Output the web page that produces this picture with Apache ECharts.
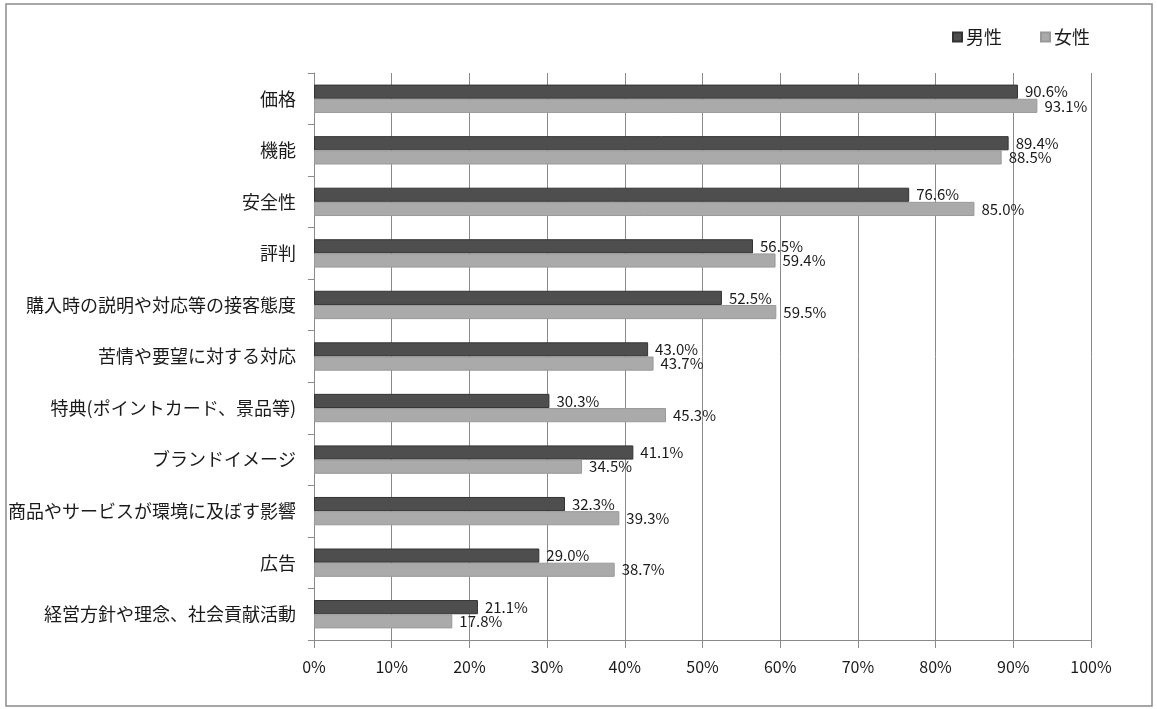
<!DOCTYPE html>
<html>
<head>
<meta charset="utf-8">
<script src="https://cdn.jsdelivr.net/npm/echarts@6/dist/echarts.min.js"></script>
<style>
html,body{margin:0;padding:0;background:#fff;}
#chart{width:1157px;height:709px;}
</style>
</head>
<body>
<div id="chart"></div>
<script>
// Categories, top to bottom
const categories = [
  '価格', '機能', '安全性', '評判', '購入時の説明や対応等の接客態度',
  '苦情や要望に対する対応', '特典(ポイントカード、景品等)', 'ブランドイメージ',
  '商品やサービスが環境に及ぼす影響', '広告', '経営方針や理念、社会貢献活動'
];
const seriesNames = ['男性', '女性'];
const maleValues = [90.6, 89.4, 76.6, 56.5, 52.5, 43.0, 30.3, 41.1, 32.3, 29.0, 21.1];
const femaleValues = [93.1, 88.5, 85.0, 59.4, 59.5, 43.7, 45.3, 34.5, 39.3, 38.7, 17.8];
const xTicks = [0, 10, 20, 30, 40, 50, 60, 70, 80, 90, 100];

const FONT = '"Noto Sans CJK JP", "Noto Sans", sans-serif';
const chart = echarts.init(document.getElementById('chart'), null, {renderer: 'canvas'});

const valueLabel = {
  show: true,
  position: 'right',
  distance: 7,
  color: '#1a1a1a',
  fontSize: 15,
  fontFamily: FONT,
  formatter: p => p.value.toFixed(1) + '%'
};

chart.setOption({
  backgroundColor: '#fff',
  animation: false,
  graphic: [{
    type: 'rect',
    shape: {x: 6, y: 4, width: 1146, height: 702},
    style: {fill: 'none', stroke: '#8a8a8a', lineWidth: 1.5},
    silent: true
  }],
  legend: {
    data: seriesNames,
    right: 62,
    top: 23,
    itemWidth: 9,
    itemHeight: 9,
    itemGap: 38,
    icon: 'rect',
    textStyle: {fontFamily: FONT, fontSize: 18, color: '#1a1a1a', padding: [0, 0, 0, -1]}
  },
  grid: {left: 314, right: 66, top: 73, bottom: 69, containLabel: false},
  xAxis: {
    type: 'value',
    min: xTicks[0],
    max: xTicks[xTicks.length - 1],
    interval: xTicks[1] - xTicks[0],
    axisLine: {show: true, lineStyle: {color: '#8a8a8a', width: 1}},
    axisTick: {show: true, length: 8, lineStyle: {color: '#8a8a8a'}},
    axisLabel: {
      margin: 19,
      fontFamily: FONT, fontSize: 16, color: '#1a1a1a',
      formatter: v => v + '%'
    },
    splitLine: {show: true, lineStyle: {color: '#8a8a8a', width: 1}}
  },
  yAxis: {
    type: 'category',
    data: categories,
    inverse: true,
    axisLine: {show: true, lineStyle: {color: '#8a8a8a', width: 1}},
    axisTick: {show: true, length: 6, lineStyle: {color: '#8a8a8a'}},
    axisLabel: {margin: 18, fontFamily: FONT, fontSize: 18, color: '#1a1a1a'}
  },
  series: [
    {
      name: seriesNames[0],
      type: 'bar',
      data: maleValues,
      barGap: '0%',
      barCategoryGap: '45%',
      itemStyle: {color: '#4e4e4e', borderColor: '#333', borderWidth: 1},
      label: valueLabel
    },
    {
      name: seriesNames[1],
      type: 'bar',
      data: femaleValues,
      barGap: '0%',
      barCategoryGap: '45%',
      itemStyle: {color: '#aaaaaa', borderColor: '#999', borderWidth: 1},
      label: valueLabel
    }
  ]
});
</script>
</body>
</html>
